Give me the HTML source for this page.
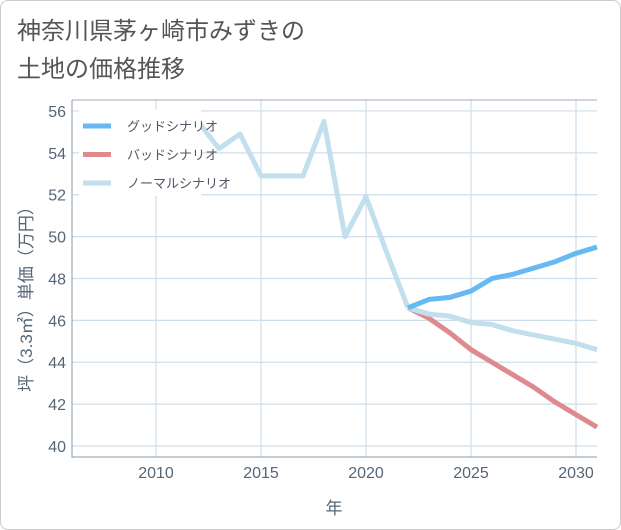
<!DOCTYPE html>
<html><head><meta charset="utf-8"><style>
body{margin:0;background:#fff;}
#wrap{position:relative;width:621px;height:530px;font-family:"Liberation Sans","Noto Sans CJK JP",sans-serif;}
#frame{position:absolute;left:0;top:0;width:619px;height:528px;border:1px solid #ccc;border-radius:8px;}
#title{position:absolute;left:17px;top:13px;font-size:24px;line-height:38px;color:#555;}
svg{position:absolute;left:0;top:0;}
</style></head><body>
<div id="wrap">
<div id="frame"></div>
<div id="title">神奈川県茅ヶ崎市みずきの<br>土地の価格推移</div>
<svg id="chart" width="621" height="530"></svg>
</div>
<script>
const yearsHist=[2008,2009,2010,2011,2012,2013,2014,2015,2016,2017,2018,2019,2020,2021,2022];
const normalHist=[54.1,54.2,53.9,54.1,55.5,54.2,54.9,52.9,52.9,52.9,55.5,50.0,51.9,49.2,46.6];
const yearsProj=[2022,2023,2024,2025,2026,2027,2028,2029,2030,2031];
const goodVals=[46.6,47.0,47.1,47.4,48.0,48.2,48.5,48.8,49.2,49.5];
const badVals=[46.6,46.1,45.4,44.6,44.0,43.4,42.8,42.1,41.5,40.9];
const normalVals=[46.6,46.3,46.2,45.9,45.8,45.5,45.3,45.1,44.9,44.6];
const xTicks=[2010,2015,2020,2025,2030];
const yTicks=[40,42,44,46,48,50,52,54,56];
const NS="http://www.w3.org/2000/svg";
const svg=document.getElementById('chart');
const X0=72,X1=597,Y0=100,Y1=457;
const xs=y=>72+(y-2006)*21;
const ys=v=>446-(v-40)*20.94;
function mk(t,a){const e=document.createElementNS(NS,t);for(const k in a)e.setAttribute(k,a[k]);svg.appendChild(e);return e;}
for(const t of yTicks){
 const l=mk('line',{x1:X0,x2:X1,y1:ys(t),y2:ys(t),stroke:'#cfdde8','stroke-width':1.2});
 
 
 const tx=mk('text',{x:66,y:ys(t)+6,'text-anchor':'end','font-size':16,fill:'#556677'});
 tx.textContent=t;
 
 
}
for(const t of xTicks){
 const l=mk('line',{x1:xs(t),x2:xs(t),y1:Y0,y2:Y1,stroke:'#cfdde8','stroke-width':1.2});
 
 
 const tx=mk('text',{x:xs(t),y:478,'text-anchor':'middle','font-size':16,fill:'#556677'});
 tx.textContent=t;
 
 
}
const ax=mk('path',{d:`M${X0} ${Y0}V${Y1}H${X1}`,fill:'none',stroke:'#8899aa','stroke-width':1});


const plotTop=mk('line',{x1:X0,x2:X1,y1:Y0,y2:Y0,stroke:'#aab','stroke-width':1});


function series(xv,vals,color,name){
 const d=vals.map((v,i)=>(i?'L':'M')+xs(xv[i])+' '+ys(v)).join('');
 const p=mk('path',{d,fill:'none',stroke:color,'stroke-width':5,'stroke-linejoin':'round'});
 
 
}
series(yearsHist,normalHist,'#c2dfed','normal-history-line');
series(yearsProj,badVals,'#de8a8f','bad-scenario-line');
series(yearsProj,normalVals,'#c2dfed','normal-scenario-line');
series(yearsProj,goodVals,'#67b9f2','good-scenario-line');
const lb=mk('rect',{x:79,y:110,width:122,height:86,fill:'#fff'});


const leg=[['グッドシナリオ','#67b9f2'],['バッドシナリオ','#de8a8f'],['ノーマルシナリオ','#c2dfed']];
leg.forEach((e,i)=>{
 const y=126+i*28.5;
 const l=mk('line',{x1:83,x2:111,y1:y,y2:y,stroke:e[1],'stroke-width':5});
 
 
 const t=mk('text',{x:127,y:y+5,'font-size':13,fill:'#556'});
 t.textContent=e[0];
 
 
});
const xt=mk('text',{x:334,y:514,'text-anchor':'middle','font-size':17,fill:'#556677'});
xt.textContent='年';


const yt=mk('text',{x:0,y:0,'text-anchor':'middle','font-size':17,fill:'#556677',transform:'translate(32,295) rotate(-90)'});
yt.textContent='坪（3.3㎡）単価（万円）';


</script>
</body></html>
